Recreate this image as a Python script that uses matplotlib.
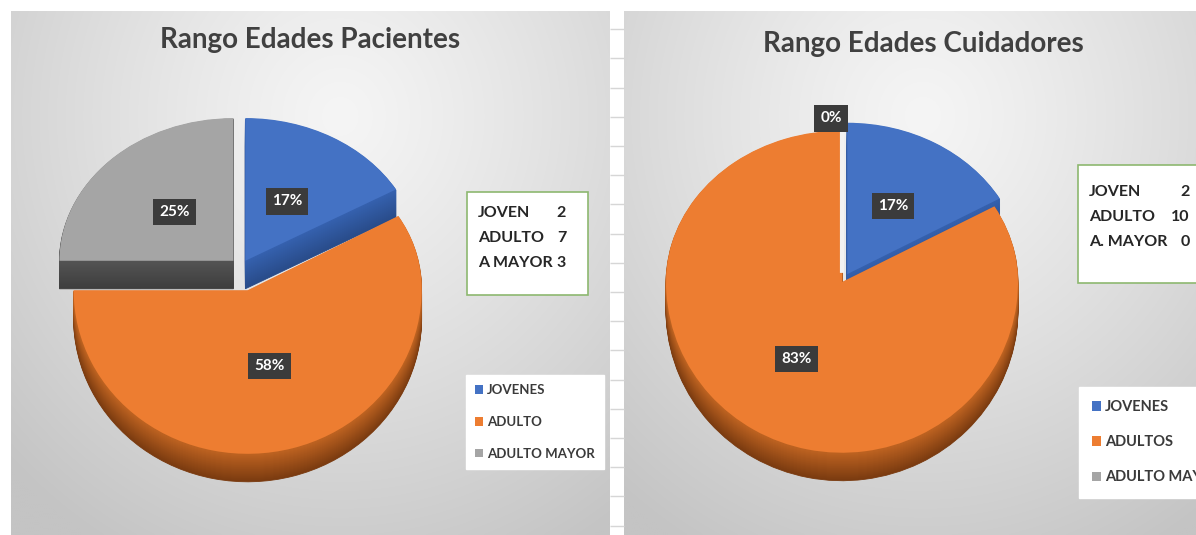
import numpy as np
import matplotlib
matplotlib.use("Agg")
import matplotlib.pyplot as plt
from matplotlib import transforms as mtrans
from matplotlib.patches import Rectangle, Patch
from matplotlib.colors import to_rgb

W, H = 1196, 535

# ---------------- data ----------------
left_title = "Rango Edades Pacientes"
left_categories = ["JOVENES", "ADULTO", "ADULTO MAYOR"]
left_values = [2, 7, 3]
left_box_labels = ["JOVEN", "ADULTO", "A MAYOR"]

right_title = "Rango Edades Cuidadores"
right_categories = ["JOVENES", "ADULTOS", "ADULTO MAYOR"]
right_values = [2, 10, 0]
right_box_labels = ["JOVEN", "ADULTO", "A. MAYOR"]

# ---------------- style ----------------
face_colors = ["#4472C4", "#ED7D31", "#A5A5A5"]
side_top = ["#3561AE", "#BC6221", "#545454"]
side_bottom = ["#294C8A", "#7A3B10", "#3E3E3E"]
TITLE_FONT = ["Lato", "DejaVu Sans"]
BOX_FONT = ["Lato", "DejaVu Sans"]


class Persp(mtrans.Transform):
    """Simple perspective: back half of pie compressed more than front half."""
    input_dims = 2
    output_dims = 2
    is_separable = False
    has_inverse = False

    def __init__(self, yc, back, front):
        super().__init__()
        self.yc, self.back, self.front = yc, back, front

    def transform_non_affine(self, values):
        v = np.array(values, dtype=float)
        single = v.ndim == 1
        v = np.atleast_2d(v).copy()
        dy = v[:, 1] - self.yc
        v[:, 1] = self.yc + np.where(dy > 0, dy * self.back, dy * self.front)
        return v[0] if single else v


def mix(c1, c2, t):
    a, b = np.array(to_rgb(c1)), np.array(to_rgb(c2))
    return tuple(a * (1 - t) + b * t)


def background(ax, x0, x1, y0, y1, cxf, cyf):
    nx, ny = 300, 260
    X, Y = np.meshgrid(np.linspace(0, 1, nx), np.linspace(0, 1, ny))
    r = np.sqrt(((X - cxf) / 0.78) ** 2 + ((Y - cyf) / 0.95) ** 2)
    r = np.clip(r, 0, 1) ** 1.2
    light = np.array(to_rgb("#f5f5f5"))
    dark = np.array(to_rgb("#c4c4c4"))
    img = light * (1 - r[..., None]) + dark * r[..., None]
    ax.imshow(img, extent=(x0, x1, H - y1, H - y0), origin="upper",
              aspect="auto", zorder=0, interpolation="bilinear")


def draw_pie(ax, values, center, radius, explode, back, front, depth,
             pctdist, zerodist):
    persp = Persp(center[1], back, front)
    total = float(sum(values))
    # side (depth) layers, bottom first
    for k in range(depth, 0, -1):
        t = (k - 1) / (depth - 1)
        cols = [mix(side_top[i], side_bottom[i], t) for i in range(len(values))]
        wedges, _ = ax.pie(values, explode=explode, colors=cols, startangle=90,
                           counterclock=False, radius=radius, center=center,
                           wedgeprops=dict(linewidth=0))
        tr = persp + mtrans.Affine2D().translate(0, -k) + ax.transData
        for w, v in zip(wedges, values):
            w.set_transform(tr)
            if v > 0:
                w.set_edgecolor(w.get_facecolor())
                w.set_linewidth(0.6)
            w.set_zorder(2)
    # top face
    wedges, _ = ax.pie(values, explode=explode, colors=face_colors,
                       startangle=90, counterclock=False, radius=radius,
                       center=center, wedgeprops=dict(linewidth=0))
    for w, v in zip(wedges, values):
        w.set_transform(persp + ax.transData)
        w.set_zorder(3)
        if v == 0:
            w.set_edgecolor("#f2f2f2")
            w.set_linewidth(3)
    # percentage labels
    for w, v in zip(wedges, values):
        th = np.deg2rad((w.theta1 + w.theta2) / 2)
        d = pctdist if v > 0 else zerodist
        cx, cy = w.center
        p = persp.transform(np.array([[cx + d * radius * np.cos(th),
                                       cy + d * radius * np.sin(th)]]))[0]
        ax.text(p[0], p[1], f"{round(100 * v / total)}%",
                ha="center" if v > 0 else "right", va="center",
                color="white", fontsize=11, fontweight="bold",
                family=BOX_FONT, zorder=6,
                bbox=dict(boxstyle="square,pad=0.4", facecolor="#3B3B3B",
                          edgecolor="none"))


fig = plt.figure(figsize=(W / 100, H / 100), dpi=100)
fig.patch.set_facecolor("white")
ax = fig.add_axes([0, 0, 1, 1])
ax.axis("off")


def reset_limits():
    ax.set_aspect("auto")
    ax.set_xlim(0, W)
    ax.set_ylim(0, H)


# panels
background(ax, 11, 610, 11, 535, 0.55, 0.2)
background(ax, 624, 1222, 11, 535, 0.5, 0.2)
# spreadsheet grid strip between panels
ax.hlines([H - 29.2 * k for k in range(1, 19)], 610, 624, color="#d6d6d6",
          linewidth=1, zorder=1)

# titles
ax.text(310, H - 40, left_title, ha="center", va="center", fontsize=20,
        family=TITLE_FONT, fontweight="bold", color="#404040", zorder=5)
ax.text(923, H - 44, right_title, ha="center", va="center", fontsize=20,
        family=TITLE_FONT, fontweight="bold", color="#404040", zorder=5)

# pies (explode given in pixel units)
draw_pie(ax, left_values, (241, H - 267), 174, [8.8, 25.6, 10.7],
         0.82, 0.94, 28, 0.48, 1.05)
draw_pie(ax, right_values, (842, H - 282), 176, [10.6, 0.0, 10.6],
         0.86, 0.97, 28, 0.52, 1.02)
reset_limits()
renderer = fig.canvas.get_renderer()


def info_box(x0, x1, y0, y1, labels, values, ys, xl, fs):
    ax.add_patch(Rectangle((x0, H - y1), x1 - x0, y1 - y0, facecolor="white",
                           edgecolor="#8DB870", linewidth=1.2, zorder=4))
    lab_texts = []
    for lab, y in zip(labels, ys):
        lab_texts.append(ax.text(xl, H - y, lab, ha="left", va="center",
                                 fontsize=fs, fontweight="bold",
                                 family=BOX_FONT, color="#262626", zorder=5))
    num_texts = []
    for v, y in zip(values, ys):
        num_texts.append(ax.text(xl, H - y, str(v), ha="right", va="center",
                                 fontsize=fs, fontweight="bold",
                                 family=BOX_FONT, color="#262626", zorder=5))
    inv = ax.transData.inverted()
    lab_end = max(inv.transform((t.get_window_extent(renderer).x1, 0))[0]
                  for t in lab_texts)
    num_w = max(t.get_window_extent(renderer).width for t in num_texts)
    col = lab_end + 4 + num_w
    for t in num_texts:
        t.set_x(col)


# info boxes
info_box(467, 588, 192, 295, left_box_labels, left_values,
         [213, 238, 263], 478, 11.5)
info_box(1078, 1230, 165, 283, right_box_labels, right_values,
         [192, 217, 242], 1089, 11.5)


# legends
def legend(cats, x, y, fs, spacing, bpad):
    handles = [Patch(facecolor=c, edgecolor="none") for c in face_colors]
    lg = fig.legend(handles, cats, loc="upper left",
                    bbox_to_anchor=(x / W, (H - y) / H), frameon=True,
                    fancybox=False, facecolor="white", edgecolor="white",
                    framealpha=1, borderpad=bpad, handlelength=0.6,
                    handleheight=0.6, handletextpad=0.3,
                    labelspacing=spacing, borderaxespad=0,
                    prop=dict(family=BOX_FONT, size=fs, weight="bold"))
    for t in lg.get_texts():
        t.set_color("#3A3A3A")
    return lg


legend(left_categories, 466, 375, 9.5, 1.5, 0.7)
legend(right_categories, 1079, 387, 10.5, 1.45, 0.9)

reset_limits()
fig.savefig("out.png", dpi=100, facecolor="white")
